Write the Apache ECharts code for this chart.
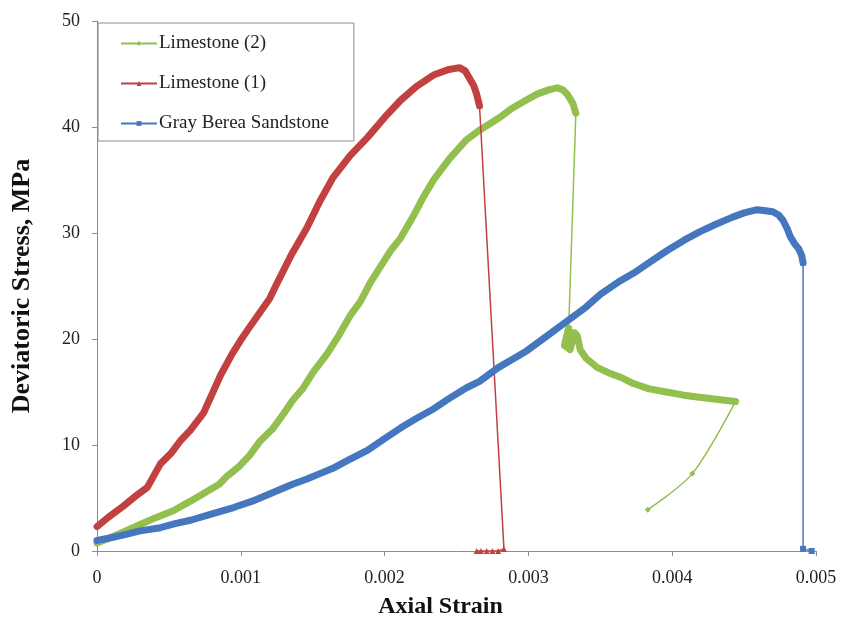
<!DOCTYPE html>
<html>
<head>
<meta charset="utf-8">
<script src="https://cdn.jsdelivr.net/npm/echarts@6/dist/echarts.min.js"></script>
<style>
  html, body { margin: 0; padding: 0; background: #fff; }
  #chart { width: 843px; height: 620px; }
</style>
</head>
<body>
<div id="chart"></div>
<script>
// Axial strain vs deviatoric stress (MPa), triaxial tests.
// Each specimen is split into its densely sampled loading curve and the sparse post-failure readings.

// Limestone (2)
const limestone2Loading = [
  [0, 0.75], [0.0001, 1.3], [0.0002, 1.9], [0.0003, 2.5], [0.0004, 3.1], [0.00053, 3.8],
  [0.00065, 4.7], [0.00075, 5.5], [0.00085, 6.3], [0.0009, 7.0], [0.00099, 8.0], [0.00106, 9.0],
  [0.00113, 10.3], [0.00122, 11.5], [0.0013, 13.0], [0.00136, 14.2], [0.00143, 15.3], [0.0015, 16.8],
  [0.0016, 18.6], [0.00168, 20.3], [0.00176, 22.2], [0.00183, 23.5], [0.0019, 25.3], [0.00197, 26.8],
  [0.00204, 28.3], [0.00211, 29.5], [0.0022, 31.6], [0.00227, 33.4], [0.00234, 35.0], [0.00245, 37.0],
  [0.00257, 38.8], [0.00266, 39.7], [0.0028, 40.9], [0.00289, 41.8], [0.00298, 42.5], [0.00306, 43.1],
  [0.00314, 43.5], [0.0032, 43.7], [0.00324, 43.5], [0.00327, 43.1], [0.00331, 42.2], [0.00333, 41.3]
];
const limestone2Drop = [[0.00333, 41.3], [0.00328, 21.0]];
const limestone2Residual = [
  [0.00328, 21.0], [0.00325, 19.4], [0.00329, 19.0], [0.00332, 20.6], [0.00334, 20.3], [0.00336, 19.0],
  [0.0034, 18.2], [0.00348, 17.3], [0.00356, 16.8], [0.00364, 16.4], [0.00373, 15.8], [0.00384, 15.3],
  [0.00396, 15.0], [0.00408, 14.7], [0.00419, 14.5], [0.00432, 14.3], [0.00444, 14.1]
];
const limestone2Unload = [[0.00444, 14.1], [0.00414, 7.3], [0.00383, 3.9]];

// Limestone (1)
const limestone1Loading = [
  [0, 2.3], [0.00008, 3.2], [0.00018, 4.2], [0.00028, 5.3], [0.00035, 6.0], [0.00044, 8.2],
  [0.00052, 9.3], [0.00058, 10.4], [0.00065, 11.4], [0.00074, 13.0], [0.0008, 14.8], [0.00086, 16.6],
  [0.00094, 18.6], [0.001, 19.9], [0.00106, 21.1], [0.0012, 23.8], [0.00125, 25.2], [0.00135, 27.9],
  [0.00146, 30.5], [0.00155, 33.0], [0.00164, 35.2], [0.00176, 37.3], [0.00188, 39.0], [0.002, 40.9],
  [0.00211, 42.5], [0.00222, 43.8], [0.00234, 44.9], [0.00244, 45.4], [0.00252, 45.6], [0.00256, 45.3],
  [0.00259, 44.6], [0.00262, 43.9], [0.00264, 43.1], [0.00266, 42.0]
];
const limestone1Failure = [
  [0.00266, 42.0], [0.00283, 0.2], [0.00279, 0], [0.00275, 0], [0.00271, 0], [0.00267, 0], [0.00264, 0]
];

// Gray Berea Sandstone
const sandstoneLoading = [
  [0, 1.0], [0.00008, 1.2], [0.00018, 1.5], [0.0003, 1.9], [0.00044, 2.2], [0.00055, 2.6],
  [0.00065, 2.9], [0.0008, 3.5], [0.00095, 4.1], [0.00108, 4.7], [0.00122, 5.5], [0.00136, 6.3],
  [0.00146, 6.8], [0.00155, 7.3], [0.00164, 7.8], [0.00175, 8.6], [0.00188, 9.5], [0.002, 10.6],
  [0.00211, 11.6], [0.00222, 12.5], [0.00234, 13.4], [0.00245, 14.4], [0.00257, 15.4], [0.00266, 16.0],
  [0.00279, 17.3], [0.00289, 18.1], [0.00299, 18.9], [0.00313, 20.3], [0.00327, 21.7], [0.0034, 23.0],
  [0.0035, 24.2], [0.00364, 25.5], [0.00373, 26.2], [0.00385, 27.3], [0.00396, 28.3], [0.00408, 29.3],
  [0.00419, 30.1], [0.0043, 30.8], [0.00442, 31.5], [0.0045, 31.9], [0.00459, 32.2], [0.00465, 32.1],
  [0.0047, 32.0], [0.00474, 31.7], [0.00477, 31.2], [0.0048, 30.4], [0.00482, 29.7], [0.00485, 29.0],
  [0.00488, 28.5], [0.0049, 27.9], [0.00491, 27.2]
];
const sandstoneFailure = [[0.00491, 27.2], [0.00491, 0.2], [0.00497, 0]];

const seriesNames = ['Limestone (2)', 'Limestone (1)', 'Gray Berea Sandstone'];
const seriesColors = ['#93BF4E', '#C2403F', '#4577BF'];
const seriesSymbols = ['diamond', 'triangle', 'rect'];

const serif = 'Liberation Serif, Times New Roman, serif';

// sparse readings: thin line with a marker at each point
function sparse(idx, data, extra) {
  return Object.assign({
    name: seriesNames[idx],
    type: 'line',
    data: data,
    symbol: seriesSymbols[idx],
    symbolSize: 6,
    showSymbol: true,
    color: seriesColors[idx],
    lineStyle: { width: 1.5, color: seriesColors[idx] },
    itemStyle: { color: seriesColors[idx] },
    animation: false,
    silent: true
  }, extra || {});
}
// densely sampled readings: the markers merge into a heavy band
function dense(idx, data) {
  return {
    name: seriesNames[idx],
    type: 'line',
    data: data,
    showSymbol: false,
    symbol: 'none',
    color: seriesColors[idx],
    lineStyle: { width: 7, color: seriesColors[idx], cap: 'round', join: 'round' },
    animation: false,
    silent: true
  };
}

const chart = echarts.init(document.getElementById('chart'), null, { renderer: 'canvas' });
chart.setOption({
  backgroundColor: '#fff',
  animation: false,
  grid: { left: 97, right: 27, top: 21, bottom: 69, containLabel: false, outerBoundsMode: 'none' },
  legend: {
    data: seriesNames,
    orient: 'vertical',
    left: 98,
    top: 23,
    padding: [11, 25, 8, 22],
    itemGap: 21,
    itemWidth: 36,
    itemHeight: 6,
    borderColor: '#8a8a8a',
    borderWidth: 1,
    backgroundColor: '#fff',
    textStyle: { fontFamily: serif, fontSize: 19, color: '#222', padding: [0, 0, 0, -3] },
    selectedMode: false
  },
  xAxis: {
    type: 'value',
    min: 0,
    max: 0.005,
    interval: 0.001,
    name: 'Axial Strain',
    nameLocation: 'middle',
    nameGap: 44,
    nameTextStyle: { fontFamily: serif, fontSize: 24, fontWeight: 'bold', color: '#111', padding: [0, 32, 0, 0] },
    axisLine: { show: true, lineStyle: { color: '#8c8c8c', width: 1 } },
    axisTick: { show: true, length: 5, inside: false, lineStyle: { color: '#8c8c8c' } },
    axisLabel: { fontFamily: serif, fontSize: 18, color: '#222', margin: 18 },
    splitLine: { show: false }
  },
  yAxis: {
    type: 'value',
    min: 0,
    max: 50,
    interval: 10,
    name: 'Deviatoric Stress, MPa',
    nameLocation: 'middle',
    nameGap: 62,
    nameTextStyle: { fontFamily: serif, fontSize: 26, fontWeight: 'bold', color: '#111' },
    axisLine: { show: true, lineStyle: { color: '#8c8c8c', width: 1 } },
    axisTick: { show: true, length: 5, inside: false, lineStyle: { color: '#8c8c8c' } },
    axisLabel: { fontFamily: serif, fontSize: 18, color: '#222', margin: 17 },
    splitLine: { show: false }
  },
  series: [
    sparse(0, limestone2Drop),
    dense(0, limestone2Loading),
    dense(0, limestone2Residual),
    sparse(0, limestone2Unload, { smooth: 0.3 }),
    sparse(1, limestone1Failure),
    dense(1, limestone1Loading),
    sparse(2, sandstoneFailure),
    dense(2, sandstoneLoading)
  ]
});
</script>
</body>
</html>
